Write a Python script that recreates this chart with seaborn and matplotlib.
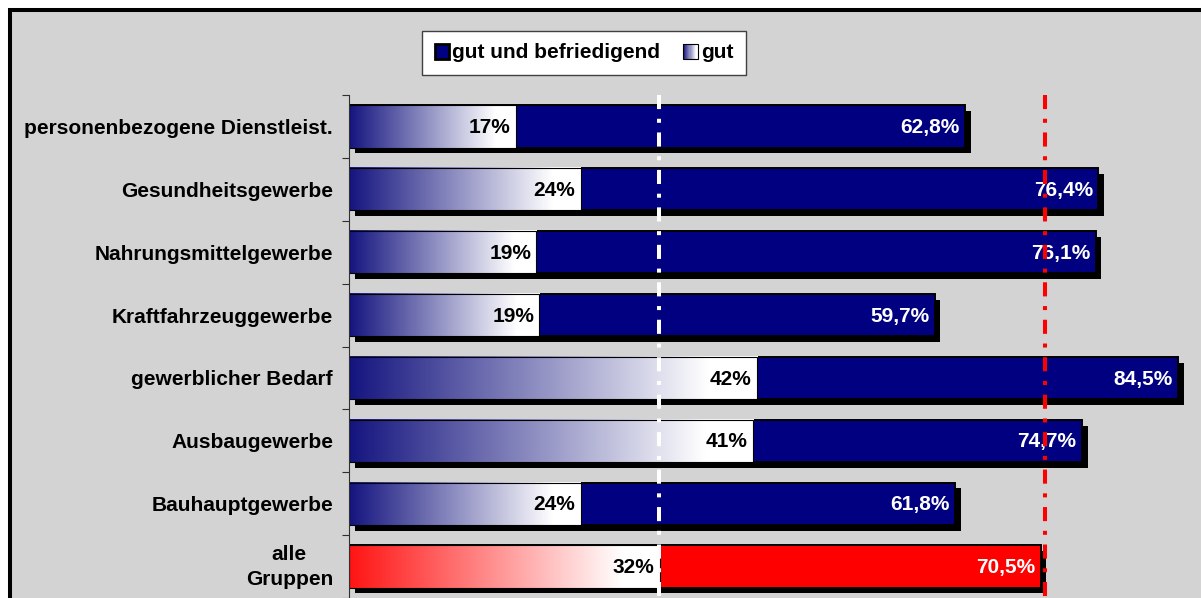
import numpy as np
import pandas as pd
import matplotlib
matplotlib.use("Agg")
import matplotlib.pyplot as plt
import matplotlib.patheffects as pe
import matplotlib.transforms as mtrans
from matplotlib.patches import Rectangle, Patch
from matplotlib.legend_handler import HandlerBase
from matplotlib.colors import LinearSegmentedColormap
import seaborn as sns

# ---------------- data ----------------
categories = ["personenbezogene Dienstleist.", "Gesundheitsgewerbe", "Nahrungsmittelgewerbe",
              "Kraftfahrzeuggewerbe", "gewerblicher Bedarf", "Ausbaugewerbe",
              "Bauhauptgewerbe", "alle\nGruppen"]
gut_und_befriedigend = [62.8, 76.4, 76.1, 59.7, 84.5, 74.7, 61.8, 70.5]
gut = [17.0, 23.6, 19.1, 19.4, 41.6, 41.2, 23.6, 31.7]
ref_gut = 31.6
ref_total = 70.9
series_labels = ["gut und befriedigend", "gut"]

# ---------------- style ----------------
navy = "#000080"
red = "#ff0000"
bar_colors = [navy] * 7 + [red]
cmap_navy = LinearSegmentedColormap.from_list("gn", [(0, "#14147f"), (0.88, "#ffffff"), (1, "#ffffff")])
cmap_red = LinearSegmentedColormap.from_list("gr", [(0, "#ff1414"), (0.88, "#ffffff"), (1, "#ffffff")])

sns.set_theme(style="white")
plt.rcParams['font.family'] = ['Liberation Sans', 'DejaVu Sans']
plt.rcParams['text.color'] = 'black'

FS = 15
W, H = 1201, 598
fig = plt.figure(figsize=(W / 100, H / 100), dpi=100)
fig.patch.set_facecolor("white")
border = Rectangle((10 / W, -0.2), 1.5, 1 - 10 / H + 0.2, transform=fig.transFigure,
                   facecolor="#d3d3d3", edgecolor="black", linewidth=2.9, zorder=-5)
fig.patches.append(border)

xmax = (W - 349) / 9.81
ax = fig.add_axes([349 / W, 0, (W - 349) / W, (H - 95) / H])
ax.set_facecolor("none")

df = pd.DataFrame({"Gruppe": categories, "total": gut_und_befriedigend, "gut": gut})
bh = 0.67
sns.barplot(data=df, y="Gruppe", x="total", hue="Gruppe", palette=bar_colors, orient="h",
            width=bh, edgecolor="black", linewidth=1.4, legend=False, ax=ax, saturation=1)
for p in ax.patches:
    p.set_path_effects([pe.SimplePatchShadow(offset=(4.2, -4.2), shadow_rgbFace="black", alpha=1),
                        pe.Normal()])
    p.set_zorder(1)

grad = np.linspace(0, 1, 256).reshape(1, -1)
for i, g in enumerate(gut):
    cm = cmap_red if i == 7 else cmap_navy
    ax.imshow(grad, extent=[0, g, i + bh / 2, i - bh / 2], aspect="auto", cmap=cm,
              interpolation="bilinear", zorder=2)
    ax.add_patch(Rectangle((0, i - bh / 2), g, bh, fill=False, edgecolor="black", linewidth=0.8, zorder=2.5))

ax.set_xlim(0, xmax)
ax.set_ylim(len(categories) - 0.5, -0.5)

for i, (t, g) in enumerate(zip(gut_und_befriedigend, gut)):
    ax.annotate(f"{g:.0f}%", xy=(g, i), xytext=(-3.8, -0.8), textcoords="offset points",
                ha="right", va="center", fontsize=FS, fontweight="bold", color="black", zorder=5)
    ax.annotate(f"{t:.1f}%".replace(".", ","), xy=(t, i), xytext=(-3.8, -0.8), textcoords="offset points",
                ha="right", va="center", fontsize=FS, fontweight="bold", color="white", zorder=5)

# reference lines
ls = (0, (3.5, 2.4, 1.0, 2.4))
ax.plot([ref_gut, ref_gut], [1, 0], transform=ax.get_xaxis_transform(), color="white",
        lw=2.9, linestyle=ls, dash_capstyle="butt", zorder=6, clip_on=False)
ax.plot([ref_total, ref_total], [1, 0], transform=ax.get_xaxis_transform(), color="red",
        lw=2.9, linestyle=ls, dash_capstyle="butt", zorder=6, clip_on=False)

# axes styling
ax.set_xlabel("")
ax.set_ylabel("")
ax.set_xticks([])
for s in ["top", "right", "bottom"]:
    ax.spines[s].set_visible(False)
ax.spines["left"].set_color("#303030")
ax.spines["left"].set_linewidth(0.8)
ax.set_yticks(range(len(categories)))
ax.set_yticklabels(categories, fontsize=FS, fontweight="bold", color="black")
ax.set_yticks(np.arange(-0.5, len(categories), 1), minor=True)
ax.tick_params(axis="y", which="major", length=0, pad=11.5)
ax.tick_params(axis="y", which="minor", length=5, width=0.8, color="#303030", direction="out", left=True)
for t in ax.get_yticklabels():
    t.set_multialignment("center")
    t.set_linespacing(1.45)
    if "\n" in t.get_text():
        t.set_transform(t.get_transform() + mtrans.ScaledTranslation(0, 3.5 / 72, fig.dpi_scale_trans))


class GradientHandler(HandlerBase):
    def create_artists(self, legend, orig_handle, xdescent, ydescent, width, height, fontsize, trans):
        n = 14
        cols = cmap_navy(np.linspace(0, 1, n))
        arts = []
        for k in range(n):
            arts.append(Rectangle((-xdescent + k * width / n, -ydescent), width / n + 0.01, height,
                                  facecolor=cols[k], edgecolor="none", transform=trans))
        arts.append(Rectangle((-xdescent, -ydescent), width, height, fill=False,
                              edgecolor="black", linewidth=0.8, transform=trans))
        return arts


h1 = Patch(facecolor=navy, edgecolor="black", linewidth=2)
h2 = Rectangle((0, 0), 1, 1)
leg = fig.legend([h1, h2], series_labels, loc="center", bbox_to_anchor=(584 / W, 1 - 53 / H),
                 ncol=2, frameon=True, fancybox=False, edgecolor="#404040", facecolor="white",
                 framealpha=1, prop={"weight": "bold", "size": FS}, handlelength=0.7,
                 handleheight=0.7, handletextpad=0.15, columnspacing=1.1, borderpad=0.6,
                 handler_map={h2: GradientHandler()})
leg.get_frame().set_linewidth(1)

fig.savefig("out.png", dpi=100, facecolor=fig.get_facecolor())
